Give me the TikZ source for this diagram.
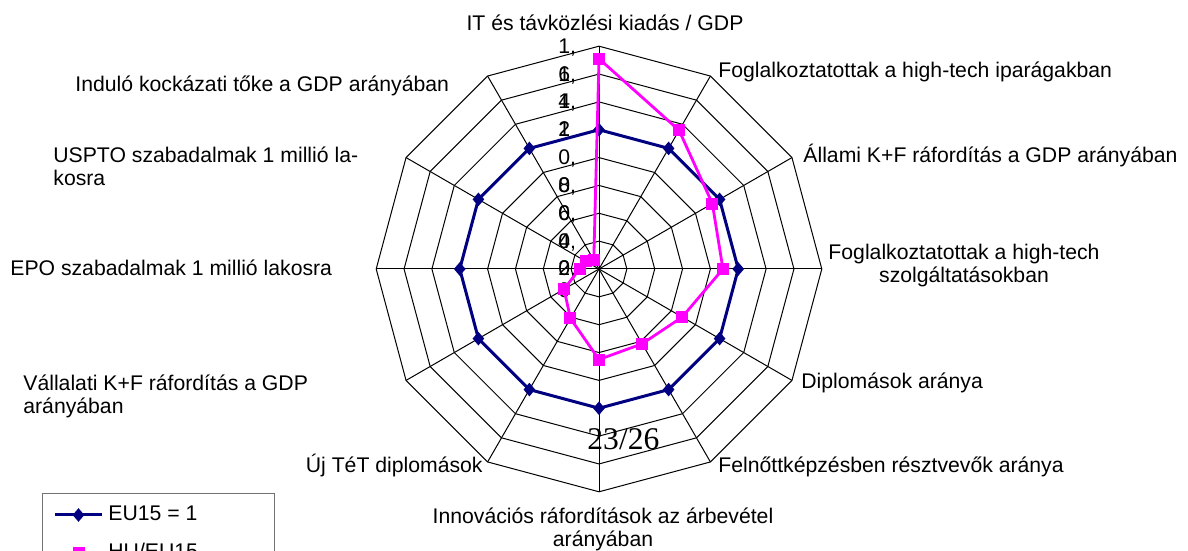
\documentclass[tikz,border=0pt]{standalone}
\usepackage{fontspec}
\setmainfont{Liberation Sans}
\newfontfamily\pagefont{Liberation Serif}
\usetikzlibrary{positioning,shapes.geometric,calc}

\definecolor{eunavy}{RGB}{0,0,128}
\definecolor{humagenta}{RGB}{255,0,255}

\begin{document}
\begin{tikzpicture}[x=0.5pt,y=0.5pt,
  grid/.style={draw=black,line width=0.5pt},
  eu/.style={draw=eunavy,line width=1.5pt,line join=round},
  hu/.style={draw=humagenta,line width=1.4pt,line join=round},
  eumark/.style={diamond,fill=eunavy,inner sep=0pt,minimum width=6pt,minimum height=7pt},
  humark/.style={rectangle,fill=humagenta,inner sep=0pt,minimum size=6pt},
  lbl/.style={font=\fontsize{10.6}{11.8}\selectfont,inner sep=0pt},
  tick/.style={font=\fontsize{10.6}{11.8}\selectfont,inner sep=0pt,anchor=base west}]
  \useasboundingbox (0,0) rectangle (1188,551);
  \clip (0,0) rectangle (1188,551);
  \def\rs{27.85} % ring step, one ring = 0,2
  \begin{scope}[shift={(599,282)}]
    % rings and spokes
    \foreach \k in {1,...,8} {
      \draw[grid] (90:\k*\rs) \foreach \j in {1,...,11} { -- (90-30*\j:\k*\rs) } -- cycle;
    }
    \foreach \j in {0,...,11} {
      \draw[grid] (0,0) -- (90-30*\j:8*\rs);
    }
    % scale labels
    \foreach \k/\a/\b in {8/1{,}/6,7/1{,}/4,6/1{,}/2,5/1/{},4/0{,}/8,3/0{,}/6,2/0{,}/4,1/0{,}/2} {
      \node[tick] (ta\k) at (-41,\k*\rs-7) {\a};
      \node[tick] (tb\k) at (-41,\k*\rs-\rs-7) {\b};
    }
    \node[tick] (ta0) at (-41,-7) {0,};
    \node[tick] (tb0) at (-41,-29) {0};
    % EU15 = 1
    \foreach \j in {0,...,11} \coordinate (eu\j) at (90-30*\j:5*\rs);
    \draw[eu] (eu0) \foreach \j in {1,...,11} { -- (eu\j) } -- cycle;
    \foreach \j in {0,...,11} \node[eumark] (em\j) at (eu\j) {};
    % HU/EU15
    \foreach \v [count=\j from 0] in {1.51,1.15,0.94,0.89,0.69,0.62,0.65,0.41,0.29,0.14,0.11,0.075}
      \coordinate (hu\j) at (90-30*\j:\v*5*\rs);
    \draw[hu] (hu0) \foreach \j in {1,...,11} { -- (hu\j) } -- cycle;
    \foreach \j in {0,...,11} \node[humark] (hm\j) at (hu\j) {};
  \end{scope}
  % category labels
  \node[lbl,anchor=base] (c0) at (605,520) {IT és távközlési kiadás / GDP};
  \node[lbl,anchor=base west] (c1) at (718,473) {Foglalkoztatottak a high-tech iparágakban};
  \node[lbl,anchor=base west] (c2) at (803,388) {Állami K+F ráfordítás a GDP arányában};
  \node[lbl,anchor=base,align=center] (c3) at (964,268) {Foglalkoztatottak a high-tech\\szolgáltatásokban};
  \node[lbl,anchor=base west] (c4) at (801,162) {Diplomások aránya};
  \node[lbl,anchor=base west] (c5) at (718,78) {Felnőttképzésben résztvevők aránya};
  \node[lbl,anchor=base,align=center] (c6) at (603,4) {Innovációs ráfordítások az árbevétel\\arányában};
  \node[lbl,anchor=base east] (c7) at (483,78) {Új TéT diplomások};
  \node[lbl,anchor=base west,align=left] (c8) at (23,137) {Vállalati K+F ráfordítás a GDP\\arányában};
  \node[lbl,anchor=base west] (c9) at (10,275) {EPO szabadalmak 1 millió lakosra};
  \node[lbl,anchor=base west,align=left] (c10) at (53,365) {USPTO szabadalmak 1 millió la-\\kosra};
  \node[lbl,anchor=base west] (c11) at (75,459) {Induló kockázati tőke a GDP arányában};
  % page number
  \node[inner sep=0pt,anchor=base west,font=\pagefont\fontsize{15.8}{18}\selectfont] (page) at (587,101) {23/26};
  % legend
  \draw[draw=black!55,line width=0.5pt] (42,57) rectangle (274,-40);
  \coordinate (la) at (55,36);
  \coordinate (lb) at (102,36);
  \draw[eu] (la) -- (lb);
  \node[eumark] (lm1) at ($(la)!0.5!(lb)$) {};
  \node[lbl,anchor=base west] (lt1) at (108,30) {EU15 = 1};
  \coordinate (lc) at (55,-2);
  \coordinate (ld) at (102,-2);
  \draw[hu] (lc) -- (ld);
  \node[humark] (lm2) at ($(lc)!0.5!(ld)$) {};
  \node[lbl,anchor=base west] (lt2) at (108,-8) {HU/EU15};
\end{tikzpicture}
\end{document}
